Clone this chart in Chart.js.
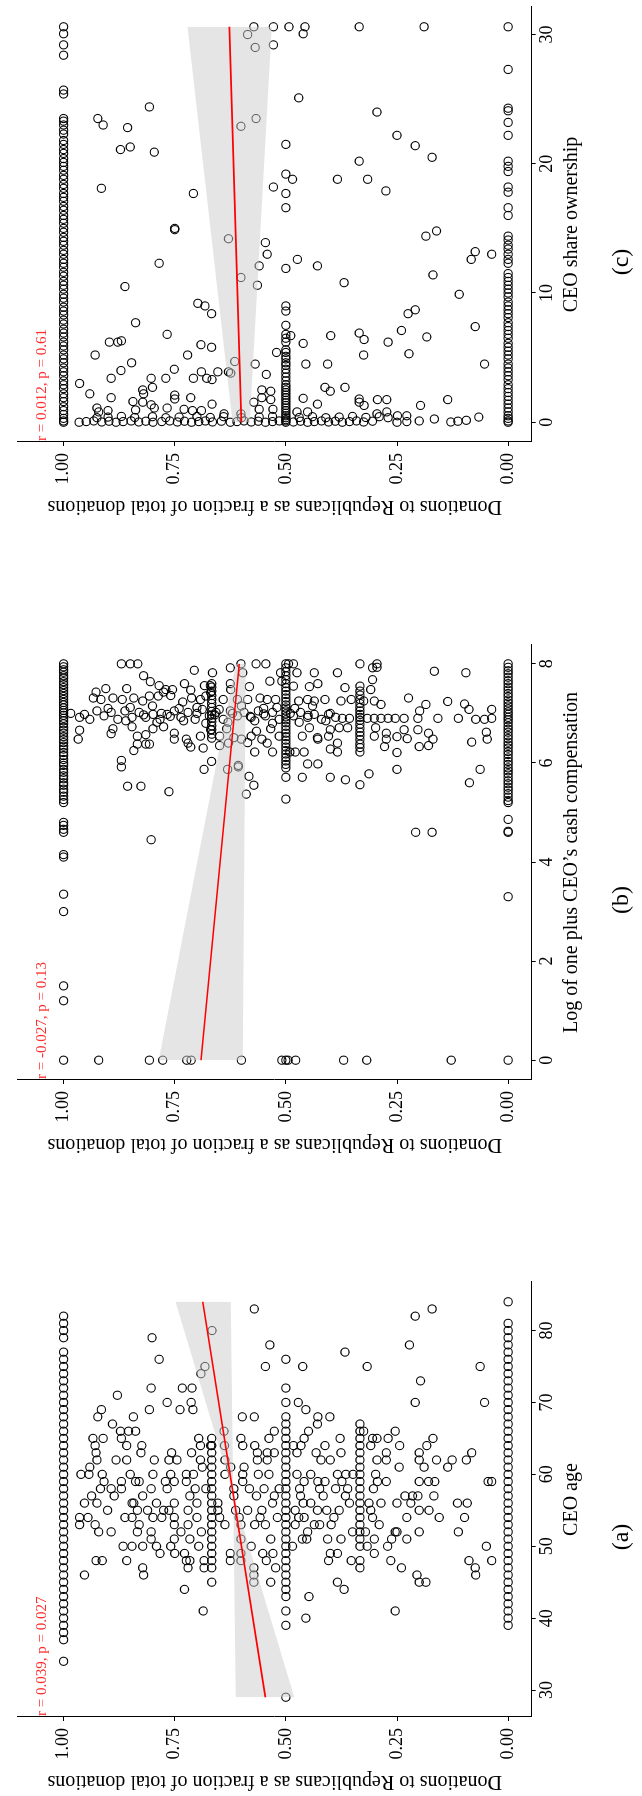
<!DOCTYPE html>
<html>
<head>
<meta charset="utf-8">
<script src="https://cdn.jsdelivr.net/npm/chart.js@4/dist/chart.umd.min.js"></script>
<style>
  html, body { margin: 0; padding: 0; background: #fff; }
  body { position: relative; width: 642px; height: 1796px; overflow: hidden; }
  .panel { position: absolute; left: 0; width: 642px; height: 520px; }
  .rot { position: absolute; left: 0; top: 0; width: 520px; height: 642px;
         transform-origin: 0 0; transform: translateY(520px) rotate(-90deg); }
</style>
</head>
<body>
<div class="panel" style="top:1px"><div class="rot"><canvas id="chartC" width="520" height="642"></canvas></div></div>
<div class="panel" style="top:639px"><div class="rot"><canvas id="chartB" width="520" height="642"></canvas></div></div>
<div class="panel" style="top:1276px"><div class="rot"><canvas id="chartA" width="520" height="642"></canvas></div></div>
<script>
// ---------- panel (a): CEO age ----------
const ageAllRep = [34,37,38,39,40,41,42,43,44,45,46,47,48,49,50,51,52,53,54,55,56,57,58,59,60,61,62,63,64,65,66,67,68,69,70,71,72,73,74,75,76,77,79,80,81,82];
const ageAllDem = [39,40,41,42,43,44,45,46,47,48,49,50,51,52,53,54,55,56,57,58,59,60,61,62,63,64,65,66,67,68,69,70,71,72,73,74,75,76,77,78,79,80,81,84];
const ageHalf = [29,39,41,43,44,45,46,47,48,49,50,51,52,53,54,55,56,57,58,59,60,61,62,63,64,65,66,67,68,70,72,76];
const ageThird = [47,48,50,51,52,53,54,55,56,57,58,59,60,61,62,63,64,65,66,67];
const ageTwoThirds = [45,47,48,49,50,51,52,53,54,55,56,57,58,59,60,61,62,63,64,65];
const agePairs = [
  [83,.571],[80,.666],[79,.801],[78,.536],[76,.785],[75,.546],[75,.462],[75,.682],[74,.691],[77,.367],[75,.317],[82,.209],[83,.171],[78,.222],[73,.197],[70,.209],[75,.063],[70,.053],
  [71,.879],[72,.803],[72,.733],[72,.711],[70,.767],[70,.713],[69,.738],[69,.709],[69,.807],[69,.915],[68,.923],[68,.843],[68,.598],[68,.571],[70,.472],[69,.455],[68,.428],[68,.401],[67,.429],
  [67,.890],[66,.872],[66,.854],[66,.838],[65,.870],[65,.934],[65,.911],[64,.858],[64,.929],[64,.824],[63,.927],[63,.826],[63,.757],[62,.925],[62,.882],[62,.858],[62,.796],[62,.763],[62,.745],
  [63,.712],[65,.696],[64,.692],[64,.669],[66,.639],[64,.638],[65,.601],[64,.597],[64,.570],[65,.538],[63,.564],[63,.542],[63,.526],[62,.564],[62,.542],[66,.526],[64,.483],[64,.466],[66,.449],
  [65,.459],[63,.475],[63,.432],[64,.412],[62,.421],[62,.400],[65,.378],[63,.376],[66,.325],[65,.305],[65,.295],[64,.309],[65,.270],[63,.274],[62,.274],[62,.295],[64,.244],[61,.245],[66,.254],
  [64,.183],[65,.169],[63,.200],[62,.200],[61,.189],[62,.161],[61,.136],[62,.126],[62,.094],[63,.082],[59,.045],[59,.037],
  [60,.961],[61,.941],[60,.943],[60,.913],[59,.909],[58,.917],[58,.893],[57,.886],[57,.937],[56,.953],[56,.925],[55,.901],[54,.964],[53,.964],[54,.945],[53,.929],[52,.921],[52,.893],
  [59,.870],[58,.870],[60,.850],[59,.838],[59,.830],[56,.842],[56,.846],[57,.822],[55,.834],[54,.862],[54,.846],[53,.830],[52,.834],[50,.846],[50,.866],[50,.822],[51,.803],[50,.791],[49,.783],
  [52,.803],[54,.799],[55,.811],[56,.791],[58,.803],[60,.799],[59,.771],[58,.767],[60,.759],[59,.751],[56,.751],[55,.775],[55,.763],[54,.779],[54,.751],[53,.751],[51,.751],[50,.759],[49,.750],
  [52,.736],[49,.728],[48,.724],[47,.720],[44,.728],[48,.716],[51,.716],[53,.720],[55,.720],[57,.716],[59,.724],[60,.724],[60,.708],[58,.704],[56,.700],[54,.700],[50,.696],[41,.686],[48,.684],
  [47,.684],[52,.690],[58,.680],[61,.688],[62,.692],[56,.653],[55,.653],[54,.649],[53,.637],[60,.637],[62,.637],[49,.625],[48,.625],[61,.624],[58,.617],[57,.617],[55,.613],[54,.605],[53,.601],
  [49,.601],[48,.601],[51,.601],[59,.597],[60,.597],[61,.594],[55,.586],[58,.582],[50,.578],[47,.572],[46,.572],[45,.572],[53,.570],[57,.566],[60,.562],[54,.558],[55,.554],[49,.552],[58,.549],
  [53,.546],[48,.544],[60,.538],[45,.534],[51,.534],[56,.530],[49,.529],[57,.526],[47,.523],[54,.519],[58,.515],[50,.485],[53,.479],[55,.479],[60,.475],[54,.471],[58,.469],[57,.467],[51,.463],
  [56,.461],[59,.459],[54,.459],[51,.453],[43,.448],[40,.455],[52,.451],[60,.444],[56,.444],[53,.436],[55,.429],[59,.428],[58,.424],[53,.424],[57,.416],[59,.412],[55,.408],[51,.406],[48,.404],
  [49,.400],[53,.398],[54,.392],[58,.388],[60,.384],[49,.384],[45,.384],[55,.380],[51,.376],[59,.374],[44,.369],[57,.366],[60,.365],[58,.361],[56,.357],[48,.353],[52,.350],[60,.349],[52,.321],
  [50,.317],[56,.313],[55,.309],[54,.305],[58,.303],[51,.301],[49,.301],[60,.298],[59,.294],[53,.290],[56,.286],[59,.274],[50,.271],[48,.264],[51,.262],[52,.250],[56,.250],[47,.240],[57,.232],
  [54,.228],[51,.228],[56,.219],[57,.215],[46,.205],[57,.203],[59,.200],[55,.200],[45,.200],[52,.200],[45,.185],[59,.179],[55,.178],[57,.167],[59,.165],[54,.155],[56,.114],[52,.112],[54,.098],
  [56,.092],[48,.088],[47,.074],[46,.073],[50,.049],[48,.037],[46,.953],[48,.927],[48,.913],[48,.858],[47,.822],[46,.820],[41,.254],[52,.254]
];
const ageFit = [[29,.546],[84,.687]];
const ageBandA = [[29,.613],[84,.624]];
const ageBandB = [[29,.481],[84,.748]];
const ageTicks = [30,40,50,60,70,80];

// ---------- panel (b): log cash compensation ----------
const compAllRep = [0,1.2,1.5,3.0,3.35,4.1,4.15,4.6,4.66,4.74,4.8,5.2,5.26,5.33,5.41,5.47,5.55,5.6,5.68,5.74,5.81,5.87,5.95,6.0,6.07,6.15,6.21,6.28,6.34,6.41,6.47,6.53,6.6,6.66,6.72,6.79,6.85,6.9,6.96,7.01,7.06,7.11,7.17,7.22,7.28,7.34,7.4,7.46,7.52,7.58,7.64,7.71,7.76,7.83,7.88,7.94,8.0];
const compAllDem = [0,3.3,4.6,4.62,4.86,5.2,5.24,5.31,5.38,5.45,5.51,5.58,5.64,5.71,5.78,5.84,5.9,5.97,6.03,6.1,6.17,6.23,6.3,6.36,6.42,6.49,6.55,6.62,6.68,6.74,6.81,6.87,6.92,6.98,7.03,7.09,7.15,7.21,7.27,7.34,7.4,7.47,7.53,7.6,7.66,7.73,7.8,7.86,7.93,8.0];
const compHalf = [0,5.27,5.71,5.9,5.97,6.04,6.11,6.18,6.25,6.32,6.39,6.46,6.53,6.6,6.67,6.74,6.81,6.87,6.93,6.99,7.05,7.11,7.17,7.24,7.31,7.38,7.45,7.52,7.6,7.68,7.76,7.84,7.92,8.0];
const compThird = [5.56,6.22,6.31,6.38,6.47,6.55,6.62,6.7,6.78,6.86,6.92,6.98,7.05,7.12,7.2,7.28,7.37,7.45,7.55,8.0];
const compTwoThirds = [6.5,6.58,6.67,6.75,6.83,6.9,6.97,7.04,7.12,7.2,7.28,7.36,7.45,7.53,7.6];
const compPairs = [
  [8,.870],[8,.850],[8,.833],[8,.601],[8,.567],[8,.545],[8,.494],[8,.483],[8,.295],[7.93,.295],
  [7.87,.706],[7.82,.665],[7.92,.625],[7.82,.597],[7.82,.512],[7.82,.475],[7.82,.436],[7.82,.384],[7.92,.305],[7.85,.166],[7.82,.095],
  [7.76,.820],[7.64,.805],[7.56,.785],[7.6,.728],[7.56,.683],[7.56,.670],[7.6,.625],[7.54,.582],[7.65,.536],[7.65,.509],[7.55,.483],[7.54,.447],[7.6,.428],[7.52,.367],[7.48,.309],[7.68,.305],
  [7.5,.905],[7.43,.927],[7.5,.858],[7.48,.770],[7.48,.755],[7.47,.714],[7.48,.624],
  [7.31,.933],[7.28,.916],[7.31,.889],[7.28,.868],[7.31,.842],[7.25,.822],[7.35,.807],[7.35,.787],[7.43,.775],[7.36,.759],[7.23,.732],[7.31,.712],[7.28,.692],[7.35,.680],[7.42,.669],
  [7.28,.641],[7.28,.609],[7.28,.586],[7.31,.558],[7.28,.542],[7.28,.523],[7.25,.471],[7.28,.451],[7.25,.436],[7.28,.412],[7.25,.376],[7.28,.353],[7.25,.325],[7.25,.301],[7.18,.286],
  [7.31,.224],[7.18,.185],[7.24,.136],[7.19,.098],
  [7.0,.984],[6.92,.964],[6.98,.953],[6.88,.941],[7.05,.925],[6.95,.909],[7.02,.893],[6.88,.878],[7.05,.862],[6.92,.846],[7.02,.830],[6.92,.815],[6.98,.799],[6.88,.783],[6.98,.767],
  [7.05,.751],[6.92,.736],[7.02,.720],[6.88,.704],[7.08,.688],[6.95,.672],[7.02,.657],[6.88,.641],[7.05,.625],[6.95,.609],[7.02,.594],[6.92,.578],[7.05,.562],[6.95,.546],[7.02,.530],
  [6.88,.515],[6.95,.483],[7.02,.467],[6.92,.451],[6.98,.436],[6.88,.420],[6.98,.404],[6.92,.388],[6.9,.373],[6.9,.357],[6.9,.317],[6.9,.301],[6.9,.286],[6.9,.270],[6.9,.254],
  [6.9,.234],[6.9,.203],[7.05,.199],[6.9,.158],[6.9,.112],[7.08,.088],[6.88,.073],[6.88,.053],[7.08,.037],[6.9,.037],
  [7.1,.900],[7.12,.850],[7.15,.800],[7.1,.740],[7.12,.700],[7.08,.650],[7.15,.600],[7.1,.550],[7.12,.520],[7.1,.480],[7.15,.440],[6.85,.860],[6.82,.790],[6.85,.730],[6.8,.680],
  [6.82,.630],[6.85,.570],[6.8,.530],[6.82,.470],[6.85,.410],[6.97,.820],[7.0,.780],[6.94,.760],[7.0,.700],[6.97,.660],[7.0,.620],[6.94,.580],[6.99,.550],[7.0,.490],[6.96,.450],[7.0,.400],
  [6.66,.964],[6.48,.967],[6.59,.893],[6.69,.889],[6.73,.846],[6.54,.834],[6.57,.815],[6.69,.799],[6.73,.775],[6.48,.751],[6.6,.751],[6.48,.724],[6.4,.720],[6.54,.692],[6.67,.669],
  [6.54,.649],[6.69,.633],[6.51,.617],[6.48,.600],[6.54,.578],[6.64,.566],[6.48,.554],[6.69,.534],[6.54,.515],[6.54,.463],[6.71,.447],[6.51,.429],[6.54,.404],[6.67,.400],[6.71,.380],
  [6.71,.361],[6.54,.301],[6.71,.298],[6.6,.274],[6.48,.274],[6.53,.250],[6.67,.234],[6.49,.227],[6.67,.203],[6.6,.179],[6.48,.169],[6.42,.082],[6.62,.049],[6.48,.047],
  [6.25,.842],[6.38,.834],[6.38,.815],[6.38,.807],[6.32,.714],[6.3,.686],[6.35,.649],[6.4,.629],[6.41,.586],[6.22,.570],[6.4,.542],[6.22,.530],[6.22,.491],[6.22,.479],[6.22,.459],
  [6.48,.428],[6.28,.400],[6.22,.384],[6.4,.384],[6.33,.278],[6.21,.250],[6.33,.200],[6.35,.179],
  [6.05,.870],[5.92,.870],[6.03,.667],[5.87,.684],[5.87,.631],[5.95,.607],[5.92,.607],[5.98,.451],[5.98,.428],[5.87,.250],[5.87,.063],
  [5.53,.856],[5.53,.826],[5.42,.763],[5.37,.589],[5.73,.583],[5.55,.572],[5.71,.463],[5.71,.400],[5.66,.366],[5.78,.313],[5.6,.087],[4.45,.803],[4.6,.208],[4.6,.171],
  [0,.921],[0,.807],[0,.777],[0,.723],[0,.713],[0,.600],[0,.509],[0,.495],[0,.478],[0,.370],[0,.318],[0,.128]
];
const compFit = [[0,.691],[8,.605]];
const compBandA = [[0,.597],[8,.590]];
const compBandB = [[0,.786],[8,.613]];
const compTicks = [0,2,4,6,8];

// ---------- panel (c): CEO share ownership ----------
const ownAllRep = [30.6,30.06,29.2,28.4,25.7,25.4,23.5,23.3,23.0,22.6,22.3,21.8,21.5,21.1,20.8,20.4,20.1,19.8,19.5,19.1,18.8,18.4,18.1,17.7,17.4,17.1,16.7,16.4,16.0,15.7,15.4,15.0,
  14.7,14.3,14.0,13.7,13.3,13.0,12.6,12.3,12.0,11.6,11.3,10.9,10.6,10.3,9.9,9.6,9.3,8.9,8.6,8.3,7.9,7.6,7.2,6.9,6.6,6.2,5.9,5.6,5.2,4.9,4.6,4.2,3.9,3.6,3.2,2.9,2.6,2.2,1.9,1.6,1.2,0.9,0.6,0.3,0.1,0];
const ownAllDem = [30.6,27.3,24.3,24.1,23.2,22.2,20.2,19.8,19.4,18.2,17.8,16.6,16.0,14.4,14.1,13.7,13.4,13.0,12.6,12.3,11.5,11.2,10.9,10.6,10.3,10.0,9.7,9.3,9.0,8.7,8.4,8.1,7.7,7.4,
  7.1,6.8,6.5,6.1,5.8,5.5,5.2,4.9,4.5,4.2,3.9,3.6,3.3,2.9,2.6,2.3,2.0,1.7,1.4,1.1,0.8,0.5,0.3,0.1,0];
const ownHalf = [0,0.1,0.2,0.35,0.5,0.7,0.9,1.1,1.3,1.5,1.7,1.9,2.1,2.3,2.5,2.7,2.9,3.2,3.5,3.8,4.1,4.4,4.6,4.9,5.1,5.4,5.6,6.2,6.5,6.8,7.5,8.6,9.0,11.9,16.6,17.7,19.2,21.5];
const ownZeroShares = [.965,.949,.932,.914,.898,.882,.866,.848,.831,.815,.799,.779,.761,.744,.728,.712,.696,.681,.665,.645,.625,.610,.594,.578,.562,.546,.530,.515,.483,.467,.451,.436,.420,.404,.389,.373,.357,.341,.325,.305,.250,.228,.200,.129,.113];
const ownLowShares = [.925,.900,.870,.840,.800,.770,.740,.700,.670,.640,.600,.560,.530,.470,.440,.410,.380,.350,.320,.290,.270];
const ownPairs = [
  [30.6,.572],[30.6,.528],[30.6,.493],[30.6,.457],[30.6,.335],[30.6,.189],[30.0,.586],[30.06,.461],[29.0,.569],[29.2,.528],
  [25.1,.471],[24.4,.807],[24.0,.295],[23.5,.923],[23.5,.567],[23.0,.911],[22.9,.601],[22.8,.856],[22.2,.250],[21.1,.872],[21.3,.850],[21.4,.209],[20.9,.796],[20.2,.335],[20.5,.171],
  [18.8,.384],[18.8,.485],[18.8,.316],[18.1,.915],[18.2,.528],[17.7,.708],[17.9,.275],
  [14.9,.750],[15.0,.750],[14.8,.161],[14.4,.185],[14.2,.629],[13.9,.546],[13.0,.542],[13.2,.074],[13.0,.037],[12.6,.083],[12.6,.474],[12.3,.785],[12.1,.429],[12.1,.560],[11.4,.169],
  [11.2,.601],[10.8,.369],[10.6,.564],[10.5,.862],[9.9,.110],
  [9.2,.698],[9.0,.682],[8.7,.209],[8.4,.667],[8.4,.225],[7.7,.838],[7.4,.074],[7.1,.240],[6.8,.767],[6.7,.489],[6.7,.399],[6.9,.335],[6.6,.183],[6.2,.897],[6.2,.878],[6.3,.870],
  [6.4,.324],[6.2,.270],[6.1,.461],[6.0,.691],[5.8,.667],[5.4,.521],[5.2,.929],[5.2,.721],[5.2,.325],[5.3,.223],[4.6,.847],[4.7,.615],[4.5,.569],[4.5,.455],[4.5,.406],[4.5,.053],
  [4.1,.751],[3.9,.690],[3.9,.653],[3.9,.629],[3.8,.624],[3.7,.544],[4.0,.871],[3.4,.803],[3.4,.893],[3.4,.770],[3.4,.708],[3.4,.678],[3.3,.666],[3.0,.964],[2.7,.800],[2.7,.412],
  [2.7,.367],[2.2,.941],[2.5,.822],[2.2,.820],[2.5,.554],[2.4,.534],[2.4,.400],[1.9,.893],[2.1,.750],[1.8,.750],[1.9,.714],[1.9,.554],[1.75,.534],[1.85,.461],[1.8,.335],[1.75,.294],
  [1.75,.273],[1.75,.136],[1.55,.335],[1.6,.844],[1.55,.822],[1.4,.666],[1.35,.803],[1.1,.925],[1.1,.796],[1.0,.729],[1.55,.572],[1.0,.560],[1.0,.529],[1.3,.324],[1.3,.197],[1.4,.429],
  [0.9,.900],[0.8,.921],[0.95,.838],[1.1,.767],[0.9,.710],[0.9,.690],[0.65,.639],[0.65,.601],[0.8,.475],[0.8,.451],[0.65,.295],[0.8,.273],[0.5,.249],[0.5,.228],[0.4,.066],[0.25,.166],[0.15,.094]
];
const ownFit = [[0,.600],[30.6,.627]];
const ownBandA = [[0,.581],[30.6,.532]];
const ownBandB = [[0,.620],[30.6,.721]];
const ownTicks = [0,10,20,30];

const shareTicks = [0, 0.25, 0.5, 0.75, 1];
const yTitle = 'Donations to Republicans as a fraction of total donations';
const serif = '"Liberation Serif", "DejaVu Serif", serif';

function xy(pairs) { return pairs.map(p => ({x: p[0], y: p[1]})); }
function column(xs, share) { return xs.map(v => ({x: v, y: share})); }

// red r/p text and the (a)/(b)/(c) caption
const panelText = {
  id: 'panelText',
  afterDraw(chart, args, opts) {
    const {ctx, chartArea, scales} = chart;
    ctx.save();
    ctx.fillStyle = '#ff2a2a';
    ctx.font = '15px ' + serif;
    ctx.textAlign = 'left';
    ctx.textBaseline = 'middle';
    ctx.fillText(opts.stat, chartArea.left + 1, scales.y.getPixelForValue(1.048));
    ctx.fillStyle = '#000';
    ctx.font = '24px ' + serif;
    ctx.textAlign = 'center';
    ctx.fillText(opts.label, 259, 622);
    ctx.restore();
  }
};

function drawPanel(id, o) {
  const axisGrid = {drawOnChartArea: false, drawTicks: true, tickLength: 4, color: '#000', lineWidth: 1};
  const axisBorder = {display: true, color: '#000', width: 1};
  new Chart(document.getElementById(id), {
    type: 'scatter',
    data: {
      datasets: [
        {data: xy(o.fit), showLine: true, borderColor: '#ff0000', borderWidth: 1.6, pointRadius: 0},
        {data: xy(o.bandA), showLine: true, borderWidth: 0, pointRadius: 0, fill: false},
        {data: xy(o.bandB), showLine: true, borderWidth: 0, pointRadius: 0,
         fill: '-1', backgroundColor: 'rgba(204,204,204,0.5)'},
        {data: o.points, pointRadius: 4.1, borderWidth: 1.1, borderColor: '#000',
         backgroundColor: 'rgba(0,0,0,0)', pointStyle: 'circle'}
      ]
    },
    plugins: [panelText],
    options: {
      responsive: false,
      animation: false,
      events: [],
      layout: {padding: {top: 9, right: 6, left: 0, bottom: 0}},
      plugins: {
        legend: {display: false},
        tooltip: {enabled: false},
        panelText: {stat: o.stat, label: o.label}
      },
      scales: {
        x: {
          type: 'linear', min: o.xMin, max: o.xMax,
          afterBuildTicks: s => { s.ticks = o.xTicks.map(v => ({value: v})); },
          afterFit: s => { s.height = 110.3; },
          grid: axisGrid, border: axisBorder,
          ticks: {color: '#000', font: {family: serif, size: 18}, padding: 1, maxRotation: 0},
          title: {display: true, text: o.xTitle, color: '#000', font: {family: serif, size: 20},
                  padding: {top: 0, bottom: 58}}
        },
        y: {
          type: 'linear', min: -0.053, max: 1.103,
          afterBuildTicks: s => { s.ticks = shareTicks.map(v => ({value: v})); },
          afterFit: s => { s.width = 79; },
          grid: axisGrid, border: axisBorder,
          ticks: {color: '#000', font: {family: serif, size: 18}, padding: 7,
                  callback: v => Number(v).toFixed(2)},
          title: {display: true, text: yTitle, color: '#000', font: {family: serif, size: 20},
                  padding: {top: 3, bottom: 0}}
        }
      }
    }
  });
}

const lowOwn = [0, 0.05, 0.1, 0.02, 0.08];
drawPanel('chartA', {
  points: [].concat(column(ageAllRep, 1), column(ageAllDem, 0), column(ageHalf, 0.5),
                    column(ageThird, 1/3), column(ageTwoThirds, 2/3), xy(agePairs)),
  fit: ageFit, bandA: ageBandA, bandB: ageBandB,
  xMin: 26.25, xMax: 86.75, xTicks: ageTicks, xTitle: 'CEO age',
  stat: 'r = 0.039, p = 0.027', label: '(a)'
});
drawPanel('chartB', {
  points: [].concat(column(compAllRep, 1), column(compAllDem, 0), column(compHalf, 0.5),
                    column(compThird, 1/3), column(compTwoThirds, 2/3), xy(compPairs)),
  fit: compFit, bandA: compBandA, bandB: compBandB,
  xMin: -0.4, xMax: 8.38, xTicks: compTicks, xTitle: 'Log of one plus CEO\u2019s cash compensation',
  stat: 'r = -0.027, p = 0.13', label: '(b)'
});
drawPanel('chartC', {
  points: [].concat(column(ownAllRep, 1), column(ownAllDem, 0), column(ownHalf, 0.5),
                    ownZeroShares.map((s, i) => ({x: lowOwn[i % lowOwn.length], y: s})),
                    ownLowShares.map((s, i) => ({x: 0.35 + lowOwn[i % lowOwn.length], y: s})),
                    xy(ownPairs)),
  fit: ownFit, bandA: ownBandA, bandB: ownBandB,
  xMin: -1.53, xMax: 32.13, xTicks: ownTicks, xTitle: 'CEO share ownership',
  stat: 'r = 0.012, p = 0.61', label: '(c)'
});
</script>
</body>
</html>
